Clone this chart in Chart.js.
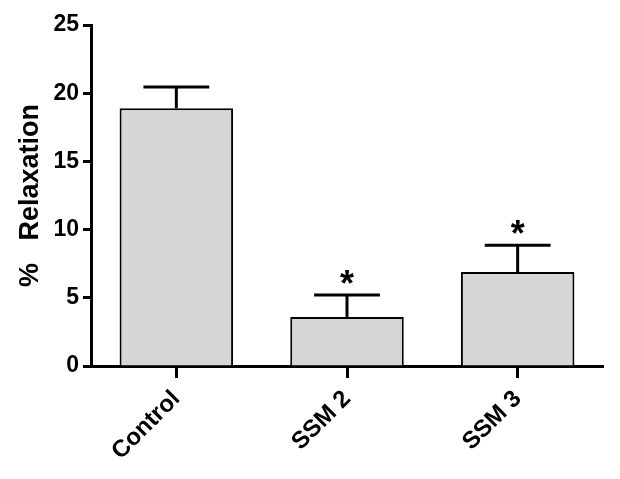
<!DOCTYPE html>
<html>
<head>
<meta charset="utf-8">
<script src="https://cdn.jsdelivr.net/npm/chart.js@4"></script>
<style>
  html, body { margin: 0; padding: 0; background: #fff; }
  #wrap { width: 620px; height: 479px; }
</style>
</head>
<body>
<div id="wrap"><canvas id="relaxChart"></canvas></div>
<script>
const groups = ['Control', 'SSM 2', 'SSM 3'];
const relaxMean = [18.9, 3.6, 6.9];
const relaxErr = [1.55, 1.6, 1.95];
const significant = [false, true, true];
const yTicks = [0, 5, 10, 15, 20, 25];

const FONT = '"Liberation Sans", Arial, Helvetica, sans-serif';

// SEM bars (upper only) + asterisks for significant groups
const errorBars = {
  id: 'errorBars',
  afterDatasetsDraw(chart) {
    const ctx = chart.ctx;
    const yScale = chart.scales.y;
    const meta = chart.getDatasetMeta(0);
    ctx.save();
    ctx.strokeStyle = '#000';
    ctx.lineWidth = 3;
    meta.data.forEach((bar, i) => {
      const top = yScale.getPixelForValue(relaxMean[i] + relaxErr[i]);
      const half = bar.width * 0.29;
      ctx.beginPath();
      ctx.moveTo(bar.x, bar.y);
      ctx.lineTo(bar.x, top);
      ctx.moveTo(bar.x - half, top);
      ctx.lineTo(bar.x + half, top);
      ctx.stroke();
      if (significant[i]) {
        ctx.fillStyle = '#000';
        ctx.font = 'bold 36px ' + FONT;
        ctx.textAlign = 'center';
        ctx.textBaseline = 'alphabetic';
        ctx.fillText('*', bar.x, top + 1);
      }
    });
    ctx.restore();
  }
};

const ctx = document.getElementById('relaxChart').getContext('2d');

new Chart(ctx, {
  type: 'bar',
  data: {
    labels: groups,
    datasets: [{
      data: relaxMean,
      backgroundColor: '#d6d6d6',
      borderColor: '#000',
      borderWidth: 2,
      barPercentage: 0.665,
      categoryPercentage: 1.0
    }]
  },
  options: {
    responsive: true,
    maintainAspectRatio: false,
    animation: false,
    layout: {
      padding: { left: 0, right: 17, top: 25, bottom: 0 }
    },
    scales: {
      x: {
        afterFit: (s) => { s.height = 113; },
        grid: {
          display: true,
          drawOnChartArea: false,
          drawTicks: true,
          tickLength: 12,
          tickWidth: 3,
          tickColor: '#000',
          offset: false
        },
        border: { display: true, color: '#000', width: 3 },
        ticks: {
          color: '#000',
          font: { family: FONT, size: 24, weight: 'bold' },
          maxRotation: 45,
          minRotation: 45,
          autoSkip: false,
          padding: 7
        }
      },
      y: {
        min: 0,
        max: 25,
        afterFit: (s) => { s.width = 91; },
        afterBuildTicks: (s) => { s.ticks = yTicks.map(v => ({ value: v })); },
        grid: {
          display: true,
          drawOnChartArea: false,
          drawTicks: true,
          tickLength: 8,
          tickWidth: 3,
          tickColor: '#000'
        },
        border: { display: true, color: '#000', width: 3 },
        ticks: {
          color: '#000',
          font: { family: FONT, size: 23, weight: 'bold' },
          padding: 4
        },
        title: {
          display: true,
          text: '%   Relaxation',
          color: '#000',
          font: { family: FONT, size: 27, weight: 'bold' },
          padding: { top: 14, bottom: 0 }
        }
      }
    },
    plugins: {
      legend: { display: false },
      tooltip: { enabled: false }
    }
  },
  plugins: [errorBars]
});
</script>
</body>
</html>
